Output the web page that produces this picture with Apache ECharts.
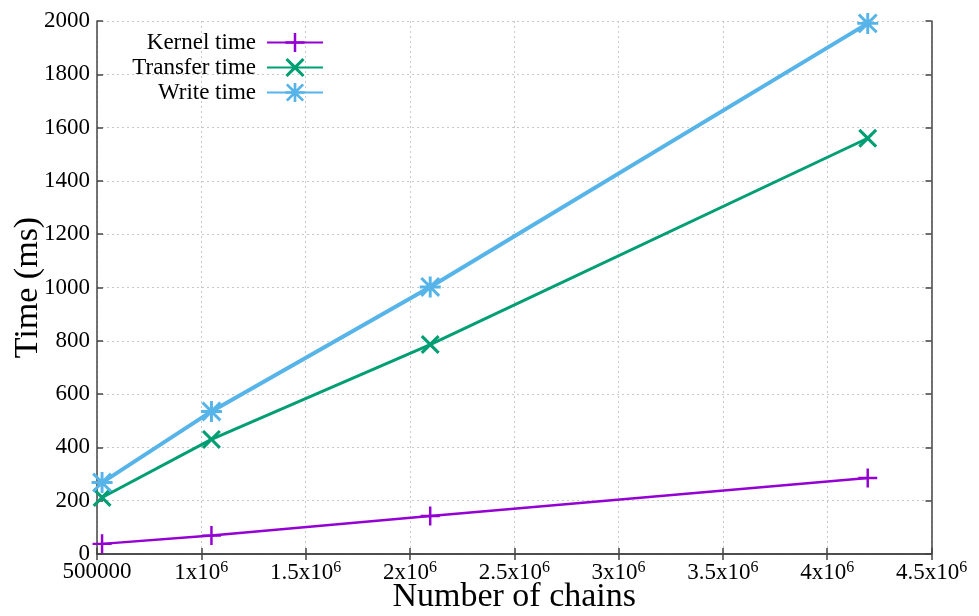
<!DOCTYPE html>
<html>
<head>
<meta charset="utf-8">
<script src="https://cdn.jsdelivr.net/npm/echarts@6/dist/echarts.min.js"></script>
<style>
html,body{margin:0;padding:0;background:#fff;}
#chart{width:979px;height:616px;}
</style>
</head>
<body>
<div id="chart"></div>
<script>
// ---- data ----
const chains = [524288, 1048576, 2097152, 4194304];
const kernelTime = [38, 69, 143, 285];
const transferTime = [212, 430, 786, 1560];
const writeTime = [268, 535, 1002, 1991];
const seriesNames = ['Kernel time', 'Transfer time', 'Write time'];
const xTickLabels = ['500000', '1x10^6', '1.5x10^6', '2x10^6', '2.5x10^6', '3x10^6', '3.5x10^6', '4x10^6', '4.5x10^6'];
const yTickLabels = ['0', '200', '400', '600', '800', '1000', '1200', '1400', '1600', '1800', '2000'];

const FONT = '"Liberation Serif", "DejaVu Serif", serif';
const colors = ['#9400d3', '#009e73', '#56b4e9'];

const plusPath = 'path://M8.7,0H11.3V8.7H20V11.3H11.3V20H8.7V11.3H0V8.7H8.7Z';
const crossPath = 'path://M2.3,0L10,7.7L17.7,0L20,2.3L12.3,10L20,17.7L17.7,20L10,12.3L2.3,20L0,17.7L7.7,10L0,2.3Z';
const starPath = 'path://M8.6,0H11.4V8.6H20V11.4H11.4V20H8.6V11.4H0V8.6H8.6Z M2.5,0.5L10,8L17.5,0.5L19.5,2.5L12,10L19.5,17.5L17.5,19.5L10,12L2.5,19.5L0.5,17.5L8,10L0.5,2.5Z';

function pairs(ys) { return chains.map((x, i) => [x, ys[i]]); }

function xLabel(value, index) {
  const idx = Math.round((value - 500000) / 500000);
  const s = xTickLabels[idx];
  if (s === undefined) return '';
  const parts = s.split('^');
  if (parts.length === 1) return '{b|' + parts[0] + '}';
  return '{b|' + parts[0] + '}{s|' + parts[1] + '}';
}

const chart = echarts.init(document.getElementById('chart'), null, {renderer: 'canvas'});

const axisLineStyle = {color: '#444', width: 1.5};
const gridLine = {show: true, lineStyle: {color: '#c8c8c8', type: [2, 3], width: 1}};

const legendBase = {
  orient: 'vertical',
  right: 979 - 324,
  padding: 0,
  itemWidth: 56,
  itemHeight: 24,
  itemGap: 6,
  textStyle: {fontFamily: FONT, fontSize: 23, color: '#000', padding: [0, 6, 0, 0]},
  align: 'right'
};

const option = {
  backgroundColor: '#fff',
  animation: false,
  grid: {left: 97, right: 47.5, top: 21, bottom: 62, containLabel: false, outerBoundsMode: 'none'},
  legend: [
    Object.assign({}, legendBase, {top: 31, data: [seriesNames[0]]}),
    Object.assign({}, legendBase, {top: 56, data: [seriesNames[1]]}),
    Object.assign({}, legendBase, {top: 81, data: [seriesNames[2]]})
  ],
  xAxis: [{
    type: 'value',
    min: 500000,
    max: 4500000,
    interval: 500000,
    position: 'bottom',
    name: 'Number of chains',
    nameLocation: 'middle',
    nameGap: 26,
    nameMoveOverlap: false,
    nameTextStyle: {fontFamily: FONT, fontSize: 34, color: '#000'},
    axisLine: {show: true, lineStyle: axisLineStyle},
    axisTick: {show: true, inside: true, length: 6, lineStyle: axisLineStyle},
    splitLine: gridLine,
    axisLabel: {
      margin: 6,
      formatter: xLabel,
      rich: {
        b: {fontFamily: FONT, fontSize: 23, color: '#000'},
        s: {fontFamily: FONT, fontSize: 16, color: '#000', verticalAlign: 'top', padding: [0, 0, 10, 0]}
      }
    }
  }, {
    type: 'value',
    min: 500000,
    max: 4500000,
    interval: 500000,
    position: 'top',
    axisLine: {show: true, lineStyle: axisLineStyle},
    axisTick: {show: true, inside: true, length: 6, lineStyle: axisLineStyle},
    splitLine: {show: false},
    axisLabel: {show: false}
  }],
  yAxis: [{
    type: 'value',
    min: 0,
    max: 2000,
    interval: 200,
    position: 'left',
    name: 'Time (ms)',
    nameLocation: 'middle',
    nameGap: 52,
    nameMoveOverlap: false,
    nameTextStyle: {fontFamily: FONT, fontSize: 34, color: '#000'},
    axisLine: {show: true, lineStyle: axisLineStyle},
    axisTick: {show: true, inside: true, length: 6, lineStyle: axisLineStyle},
    splitLine: gridLine,
    axisLabel: {
      margin: 7,
      fontFamily: FONT, fontSize: 23, color: '#000',
      formatter: function (v) { const i = Math.round(v / 200); return yTickLabels[i] !== undefined ? yTickLabels[i] : ''; }
    }
  }, {
    type: 'value',
    min: 0,
    max: 2000,
    interval: 200,
    position: 'right',
    axisLine: {show: true, lineStyle: axisLineStyle},
    axisTick: {show: true, inside: true, length: 6, lineStyle: axisLineStyle},
    splitLine: {show: false},
    axisLabel: {show: false}
  }],
  series: [
    {
      name: seriesNames[0], type: 'line', data: pairs(kernelTime),
      symbol: plusPath, symbolSize: 19, clip: false,
      lineStyle: {color: colors[0], width: 2.5},
      itemStyle: {color: colors[0]},
      z: 3
    },
    {
      name: seriesNames[1], type: 'line', data: pairs(transferTime),
      symbol: crossPath, symbolSize: 19, clip: false,
      lineStyle: {color: colors[1], width: 3},
      itemStyle: {color: colors[1]},
      z: 4
    },
    {
      name: seriesNames[2], type: 'line', data: pairs(writeTime),
      symbol: starPath, symbolSize: 21, clip: false,
      lineStyle: {color: colors[2], width: 4},
      itemStyle: {color: colors[2]},
      z: 5
    }
  ]
};
chart.setOption(option);
</script>
</body>
</html>
